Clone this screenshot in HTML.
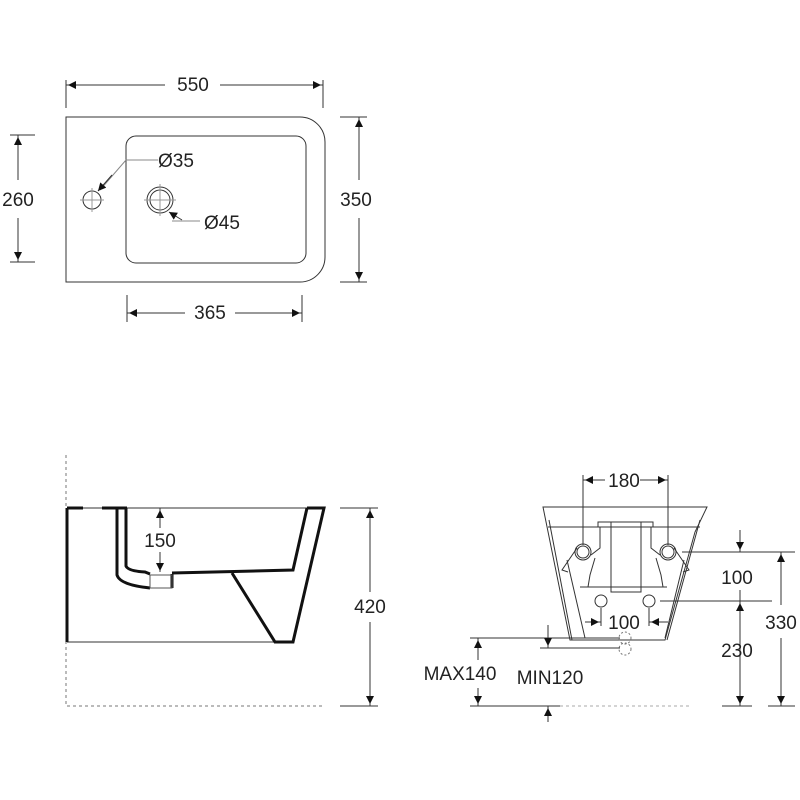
<!DOCTYPE html>
<html><head><meta charset="utf-8"><style>html,body{margin:0;background:#fff}svg{display:block}text{font-family:"Liberation Sans",sans-serif;font-size:19px;fill:#222}</style></head><body>
<svg width="800" height="800" viewBox="0 0 800 800" xmlns="http://www.w3.org/2000/svg">
<defs><marker id="a" viewBox="0 0 10 10" refX="10" refY="5" markerWidth="13" markerHeight="8" orient="auto-start-reverse" markerUnits="userSpaceOnUse"><path d="M0,0L10,5L0,10z" fill="#111"/></marker></defs>
<g stroke="#333" stroke-width="1" fill="none">
<!-- top view -->
<path d="M66,117H300A25,25 0 0 1 325,142V257A25,25 0 0 1 300,282H66Z"/>
<rect x="126" y="136" width="180" height="127" rx="10"/>
<circle cx="92" cy="200" r="9"/><circle cx="160" cy="200" r="13"/><circle cx="160" cy="200" r="10"/>
<path d="M80,200H104M92,188V212M144,200H176M160,184V216" stroke="#999"/>
<path d="M66,80V108M323,80V108M66,85H165M220,85H323" />
<line x1="90" y1="85" x2="68" y2="85" marker-end="url(#a)"/><line x1="300" y1="85" x2="321" y2="85" marker-end="url(#a)"/>
<path d="M10,135H35M10,262H35M18,135V180M18,218V262"/>
<line x1="18" y1="160" x2="18" y2="137" marker-end="url(#a)"/><line x1="18" y1="240" x2="18" y2="260" marker-end="url(#a)"/>
<path d="M340,117H367M340,282H367M359,117V180M359,218V282"/>
<line x1="359" y1="140" x2="359" y2="119" marker-end="url(#a)"/><line x1="359" y1="260" x2="359" y2="280" marker-end="url(#a)"/>
<path d="M127,295V322M302,295V322M127,313H185M235,313H302"/>
<line x1="150" y1="313" x2="129" y2="313" marker-end="url(#a)"/><line x1="280" y1="313" x2="300" y2="313" marker-end="url(#a)"/>
<path d="M100,190L126,160H158M172,221H200" stroke="#888"/>
<line x1="112" y1="175" x2="98" y2="191" marker-end="url(#a)"/><line x1="182" y1="220" x2="169" y2="212" marker-end="url(#a)"/>
<!-- side view -->
<path d="M66,455V706H325" stroke-dasharray="3,3" stroke="#777"/>
<path d="M67,508H324M67,642H293" />
<g stroke="#111" stroke-width="3">
<path d="M67,508V642M67,508H83M102,508H127M307,508H324L293,642H275L232,573"/>
<path d="M126,508V566Q128,571 145,572L150,574M172,573L293,570L307,508"/>
<path d="M117,508V575Q120,585 150,588"/>
<path d="M172,574V588"/>
</g>
<rect x="150" y="575" width="22" height="13" stroke="#555"/>
<path d="M340,508H378M340,706H378M370,508V592M370,622V706"/>
<line x1="370" y1="530" x2="370" y2="510" marker-end="url(#a)"/><line x1="370" y1="685" x2="370" y2="704" marker-end="url(#a)"/>
<path d="M160,508V528M160,552V572"/>
<line x1="160" y1="525" x2="160" y2="510" marker-end="url(#a)"/><line x1="160" y1="555" x2="160" y2="571" marker-end="url(#a)"/>
<!-- front view -->
<path d="M543,507H707L695,532L665,640H570L543,507Z"/>
<path d="M548,527H700"/>
<path d="M598,527V522H653V527M611,522V592H641V522"/>
<path d="M580,587H667"/>
<path d="M549,520L572,640M700,520L667,640"/>
<path d="M567,560L585,638M684,560L665,638"/>
<path d="M577,548L562,570L568,572M591,555L600,548V527M595,558L590,575L588,587"/>
<path d="M674,548L689,570L683,572M660,555L651,548V527M656,558L661,575L663,587"/>
<circle cx="583" cy="552" r="6"/><circle cx="668" cy="552" r="6"/>
<circle cx="583" cy="552" r="8"/><circle cx="668" cy="552" r="8"/>
<circle cx="601" cy="601" r="6"/><circle cx="649" cy="601" r="6"/>
<circle cx="625" cy="638" r="6" stroke-dasharray="2,2" stroke="#777"/><circle cx="625" cy="649" r="6" stroke-dasharray="2,2" stroke="#777"/>
<path d="M583,475V545M668,475V545M583,480H605M640,480H668"/>
<line x1="600" y1="480" x2="585" y2="480" marker-end="url(#a)"/><line x1="652" y1="480" x2="666" y2="480" marker-end="url(#a)"/>
<path d="M601,608V626M649,608V626M585,622H601M649,622H668"/>
<line x1="585" y1="622" x2="599" y2="622" marker-end="url(#a)"/><line x1="668" y1="622" x2="651" y2="622" marker-end="url(#a)"/>
<path d="M682,552H795M660,601H772M722,706H752M768,706H795"/>
<path d="M740,530V552M740,590V706M781,552V605M781,638V706"/>
<line x1="740" y1="530" x2="740" y2="550" marker-end="url(#a)"/><line x1="740" y1="620" x2="740" y2="603" marker-end="url(#a)"/>
<line x1="740" y1="685" x2="740" y2="704" marker-end="url(#a)"/>
<line x1="781" y1="572" x2="781" y2="554" marker-end="url(#a)"/><line x1="781" y1="685" x2="781" y2="704" marker-end="url(#a)"/>
<path d="M470,638H620M540,648H620M470,706H560" />
<path d="M560,706H690" stroke-dasharray="3,3" stroke="#aaa"/>
<path d="M478,638V660M478,688V706M548,625V648M548,706V720"/>
<line x1="478" y1="655" x2="478" y2="640" marker-end="url(#a)"/><line x1="478" y1="690" x2="478" y2="704" marker-end="url(#a)"/>
<line x1="548" y1="630" x2="548" y2="646" marker-end="url(#a)"/><line x1="548" y1="722" x2="548" y2="708" marker-end="url(#a)"/>
</g>
<text x="193" y="91" text-anchor="middle">550</text>
<text x="18" y="206" text-anchor="middle">260</text>
<text x="356" y="206" text-anchor="middle">350</text>
<text x="210" y="319" text-anchor="middle">365</text>
<text x="158" y="167">Ø35</text>
<text x="204" y="229">Ø45</text>
<text x="160" y="547" text-anchor="middle">150</text>
<text x="370" y="613" text-anchor="middle">420</text>
<text x="624" y="487" text-anchor="middle">180</text>
<text x="624" y="629" text-anchor="middle">100</text>
<text x="737" y="584" text-anchor="middle">100</text>
<text x="737" y="657" text-anchor="middle">230</text>
<text x="781" y="629" text-anchor="middle">330</text>
<text x="460" y="680" text-anchor="middle">MAX140</text>
<text x="550" y="684" text-anchor="middle">MIN120</text>
</svg>
</body></html>
